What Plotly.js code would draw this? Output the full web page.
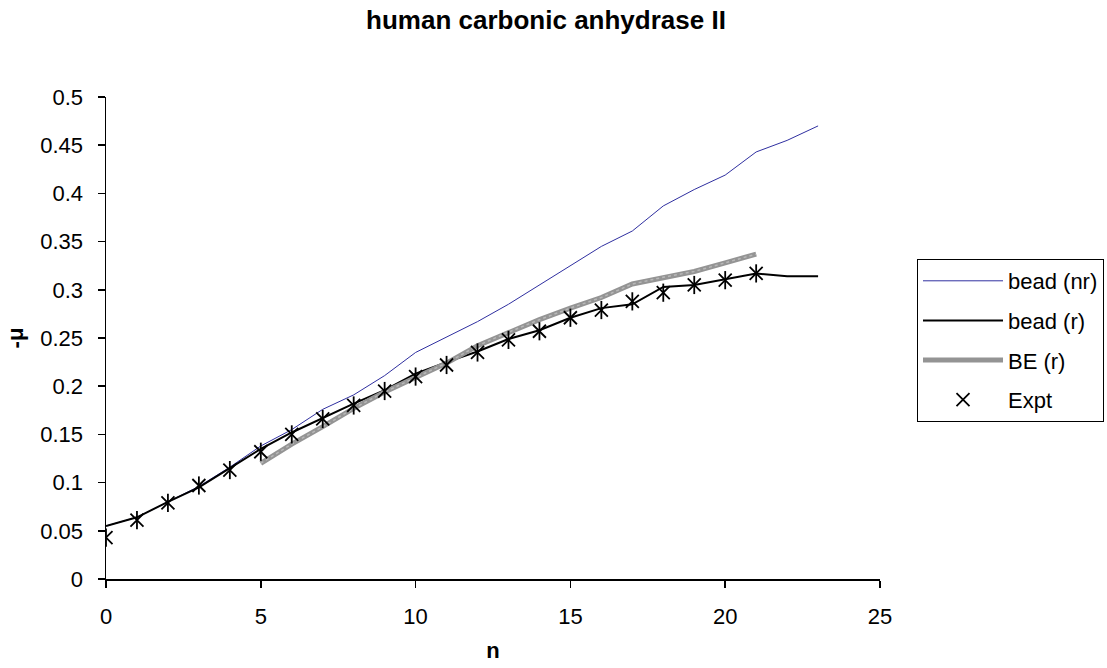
<!DOCTYPE html>
<html>
<head>
<meta charset="utf-8">
<script src="https://cdn.plot.ly/plotly-3.0.1.min.js"></script>
<style>html,body{margin:0;padding:0;background:#fff;}#chart{width:1107px;height:668px;}</style>
</head>
<body>
<div id="chart"></div>
<script>
// n values
const nFull = [0,1,2,3,4,5,6,7,8,9,10,11,12,13,14,15,16,17,18,19,20,21,22,23];
const beadNR = [0.055,0.064,0.080,0.096,0.116,0.138,0.155,0.176,0.191,0.211,0.235,0.251,0.267,0.285,0.305,0.325,0.345,0.361,0.387,0.404,0.419,0.443,0.455,0.470];
const beadR  = [0.055,0.064,0.080,0.095,0.115,0.135,0.152,0.167,0.182,0.196,0.213,0.225,0.236,0.249,0.258,0.271,0.281,0.285,0.303,0.305,0.311,0.317,0.314,0.314];
const nBE = [5,6,7,8,9,10,11,12,13,14,15,16,17,18,19,20,21];
const beR = [0.120,0.140,0.158,0.177,0.194,0.209,0.224,0.242,0.256,0.269,0.281,0.292,0.306,0.313,0.319,0.328,0.337];
const nExpt = [0,1,2,3,4,5,6,7,8,9,10,11,12,13,14,15,16,17,18,19,20,21];
const expt = [0.043,0.061,0.079,0.097,0.113,0.132,0.150,0.166,0.180,0.195,0.210,0.222,0.235,0.248,0.257,0.271,0.279,0.288,0.297,0.305,0.310,0.317];
const seriesNames = ['bead (nr)','bead (r)','BE (r)','Expt'];

const font = {family:'Liberation Sans, Arial, sans-serif', color:'#000'};
const F = s => Object.assign({size:s}, font);

const traces = [
  {x:nFull, y:beadNR, name:seriesNames[0], legendgroup:'a', mode:'lines', line:{color:'#2f2fa0', width:1}},
  {x:nFull, y:beadR, name:seriesNames[1], legendgroup:'b', mode:'lines', line:{color:'#000', width:2}},
  {x:nBE, y:beR, name:seriesNames[2], legendgroup:'c', mode:'lines', line:{color:'#949494', width:5}},
  {x:nBE, y:beR, name:seriesNames[2], legendgroup:'c', showlegend:false, mode:'lines', line:{color:'#b8b8b8', width:1.5, dash:'dot'}},
  {x:nExpt, y:expt, name:seriesNames[3], legendgroup:'d', mode:'markers', marker:{symbol:'x-thin-open', size:13, color:'#000', line:{color:'#000', width:1.8}}},
  {x:nExpt, y:expt, name:seriesNames[3], legendgroup:'d', showlegend:false, mode:'markers', marker:{symbol:'line-ns-open', size:13, color:'#000', line:{color:'#000', width:1.8}}}
];

const layout = {
  width:1107, height:668,
  paper_bgcolor:'#fff', plot_bgcolor:'#fff',
  margin:{l:106, r:227, t:97, b:89, autoexpand:false},
  font:F(22),
  title:{text:'<b>human carbonic anhydrase II</b>', font:F(26), x:546/1107, xref:'container', xanchor:'center', y:1-20/668, yref:'container', yanchor:'middle'},
  xaxis:{range:[0,25], dtick:5, tick0:0, showgrid:false, zeroline:false, showline:true, linecolor:'#000', linewidth:1.5,
         ticks:'outside', ticklen:7, tickwidth:1.5, tickcolor:'#000', ticklabelstandoff:10, automargin:false,
         tickfont:F(22),
         title:{text:'<b>n</b>', font:F(22), standoff:14}},
  yaxis:{range:[0,0.5], dtick:0.05, tick0:0, showgrid:false, zeroline:false, showline:true, linecolor:'#000', linewidth:1.5,
         ticks:'outside', ticklen:7, tickwidth:1.5, tickcolor:'#000', ticklabelstandoff:10, automargin:false,
         tickfont:F(22),
         title:{text:'<b>-μ</b>', font:F(22), standoff:10}},
  legend:{x:(917-106)/774, xanchor:'left', y:(579-259)/482, yanchor:'top',
          bordercolor:'#000', borderwidth:1, bgcolor:'#fff',
          font:F(22), traceorder:'grouped', tracegroupgap:8, itemwidth:80},
  showlegend:true
};

Plotly.newPlot('chart', traces, layout, {displayModeBar:false, staticPlot:true});
</script>
</body>
</html>
